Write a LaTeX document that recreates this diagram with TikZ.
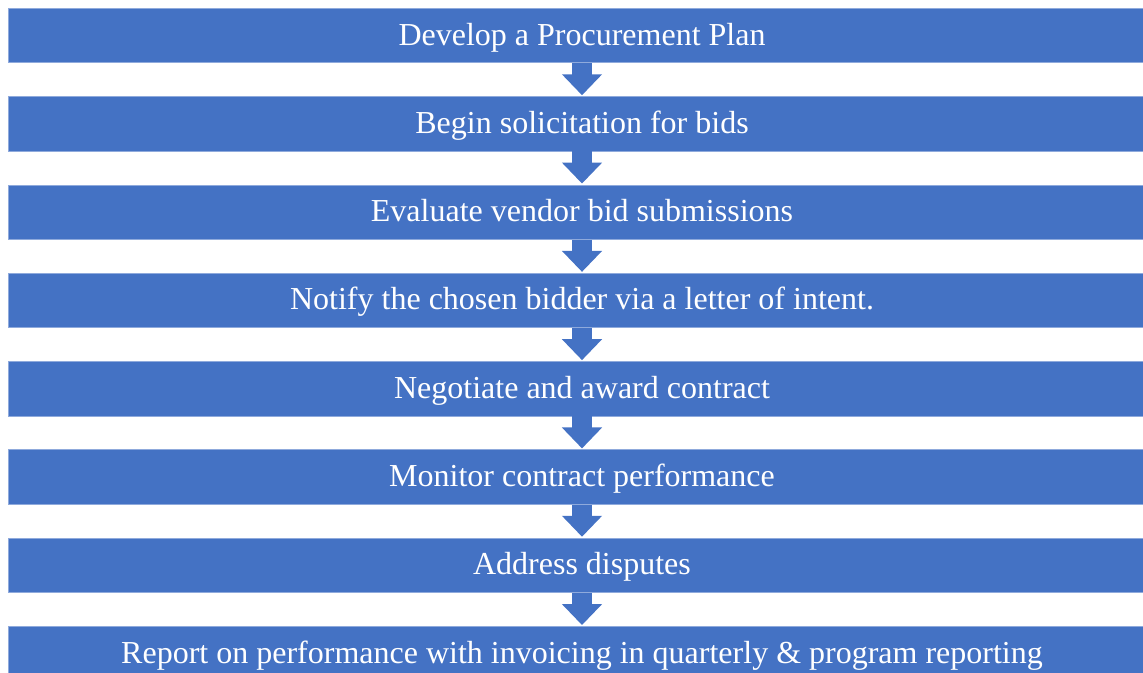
\documentclass[tikz,border=0pt]{standalone}
\usepackage{fontspec}
\setmainfont{Liberation Serif}
\usetikzlibrary{positioning,arrows.meta}
\definecolor{stageblue}{HTML}{4472C4}
\definecolor{stageedge}{HTML}{8FAADC}
\tikzset{
  stagebox/.style={fill=stageblue, draw=stageedge, line width=0.6pt, text=white,
    minimum width=1148pt, minimum height=54.5pt, inner sep=0pt,
    text height=23pt, text depth=4pt,
    font=\fontsize{32}{36}\selectfont},
  flowarrow/.style={draw=stageblue, line width=20pt,
    -{Triangle[length=21pt,width=39pt]}, shorten >=1pt}
}

\begin{document}
\begin{tikzpicture}[x=1pt,y=-1pt,node distance=33.2pt]
            \useasboundingbox (0,0) rectangle (1143,672);
            \node[stagebox] (plan) at (582,35.5) {Develop a Procurement Plan};
            \node[stagebox,below=of plan] (solicit) {Begin solicitation for bids};
            \node[stagebox,below=of solicit] (evaluate) {Evaluate vendor bid submissions};
            \node[stagebox,below=of evaluate] (notify) {Notify the chosen bidder via a letter of intent.};
            \node[stagebox,below=of notify] (negotiate) {Negotiate and award contract};
            \node[stagebox,below=of negotiate] (monitor) {Monitor contract performance};
            \node[stagebox,below=of monitor] (disputes) {Address disputes};
            \node[stagebox,below=of disputes] (report) {Report on performance with invoicing in quarterly \& program reporting};
            \draw[flowarrow] (plan) -- (solicit);
            \draw[flowarrow] (solicit) -- (evaluate);
            \draw[flowarrow] (evaluate) -- (notify);
            \draw[flowarrow] (notify) -- (negotiate);
            \draw[flowarrow] (negotiate) -- (monitor);
            \draw[flowarrow] (monitor) -- (disputes);
            \draw[flowarrow] (disputes) -- (report);
        \end{tikzpicture}
\end{document}
